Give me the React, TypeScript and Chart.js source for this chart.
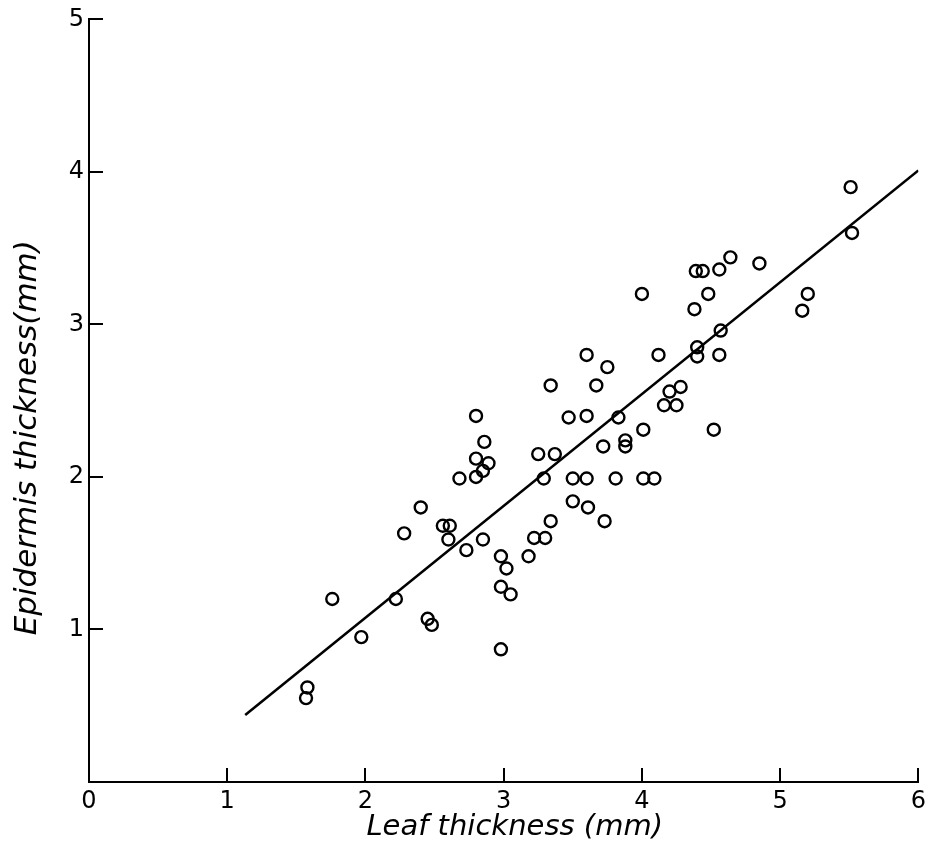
import { useEffect, useRef } from "react";
import { Chart, registerables } from "chart.js";

Chart.register(...registerables);

const leafThickness = [
  1.57, 1.58, 1.76, 1.97, 2.22, 2.28, 2.4, 2.45, 2.48, 2.56, 2.61, 2.6, 2.68, 2.73,
  2.8, 2.86, 2.8, 2.89, 2.85, 2.8, 2.85, 2.98, 3.02, 2.98, 3.05, 2.98, 3.18, 3.22,
  3.3, 3.34, 3.29, 3.25, 3.37, 3.34, 3.47, 3.6, 3.83, 3.5, 3.6, 3.81, 3.5, 3.61,
  3.73, 3.72, 3.88, 3.88, 4.01, 3.6, 3.75, 3.67, 4.12, 4.4, 4.4, 4.56, 4.57, 4.2,
  4.28, 4.16, 4.25, 4.52, 4.01, 4.09, 4.39, 4.44, 4.56, 4.64, 4.85, 4.0, 4.48,
  4.38, 5.2, 5.16, 5.51, 5.52,
];
const epidermisThickness = [
  0.55, 0.62, 1.2, 0.95, 1.2, 1.63, 1.8, 1.07, 1.03, 1.68, 1.68, 1.59, 1.99, 1.52,
  2.4, 2.23, 2.12, 2.09, 2.04, 2.0, 1.59, 1.48, 1.4, 1.28, 1.23, 0.87, 1.48, 1.6,
  1.6, 1.71, 1.99, 2.15, 2.15, 2.6, 2.39, 2.4, 2.39, 1.99, 1.99, 1.99, 1.84, 1.8,
  1.71, 2.2, 2.24, 2.2, 2.31, 2.8, 2.72, 2.6, 2.8, 2.85, 2.79, 2.8, 2.96, 2.56,
  2.59, 2.47, 2.47, 2.31, 1.99, 1.99, 3.35, 3.35, 3.36, 3.44, 3.4, 3.2, 3.2,
  3.1, 3.2, 3.09, 3.9, 3.6,
];
const fitLeaf = [1.13, 6.0];
const fitEpidermis = [0.44, 4.01];
const xTickValues = [0, 1, 2, 3, 4, 5, 6];
const yTickValues = [1, 2, 3, 4, 5];
const xTitle = "Leaf thickness (mm)";
const yTitle = "Epidermis thickness(mm)";

const innerTicks = {
  id: "innerTicks",
  afterDatasetsDraw(chart: any) {
    const { ctx, scales, chartArea } = chart;
    const x = scales.x;
    const y = scales.y;
    ctx.save();
    ctx.strokeStyle = "#000";
    ctx.lineWidth = 2;
    ctx.beginPath();
    x.ticks.forEach((t: any) => {
      if (t.value === 0) return;
      const px = Math.round(x.getPixelForValue(t.value));
      ctx.moveTo(px, chartArea.bottom);
      ctx.lineTo(px, chartArea.bottom - 14);
    });
    y.ticks.forEach((t: any) => {
      if (t.value === 0) return;
      const py = Math.round(y.getPixelForValue(t.value));
      ctx.moveTo(chartArea.left, py);
      ctx.lineTo(chartArea.left + 14, py);
    });
    ctx.stroke();

    // axis titles
    ctx.fillStyle = "#000";
    ctx.textAlign = "center";
    ctx.textBaseline = "middle";
    ctx.font = "italic 29px 'DejaVu Sans'";
    ctx.fillText(xTitle, (chartArea.left + chartArea.right) / 2 + 11, chartArea.bottom + 45);
    ctx.translate(chartArea.left - 61, (chartArea.top + chartArea.bottom) / 2 + 37);
    ctx.rotate(-Math.PI / 2);
    ctx.font = "italic 31px 'DejaVu Sans'";
    ctx.fillText(yTitle, 0, 0);
    ctx.restore();
  },
};

export default function App() {
  const ref = useRef<HTMLCanvasElement | null>(null);

  useEffect(() => {
    if (!ref.current) return;
    const points = leafThickness.map((v, i) => ({ x: v, y: epidermisThickness[i] }));
    const fit = fitLeaf.map((v, i) => ({ x: v, y: fitEpidermis[i] }));
    const tickFont = { family: "DejaVu Sans", size: 24 };
    const chart = new Chart(ref.current, {
      type: "scatter",
      data: {
        datasets: [
          {
            type: "line",
            data: fit,
            borderColor: "#000",
            borderWidth: 2.6,
            pointRadius: 0,
            fill: false,
            order: 2,
          } as any,
          {
            data: points,
            pointStyle: "circle",
            pointRadius: 6,
            pointBorderWidth: 2.4,
            borderColor: "#000",
            backgroundColor: "rgba(0,0,0,0)",
            order: 1,
          } as any,
        ],
      },
      options: {
        animation: false,
        responsive: false,
        layout: { padding: { top: 18, right: 11, left: 0, bottom: 0 } },
        plugins: { legend: { display: false }, tooltip: { enabled: false } },
        scales: {
          x: {
            type: "linear",
            min: 0,
            max: 6,
            afterFit: (s: any) => {
              s.height = 70;
            },
            afterBuildTicks: (s: any) => {
              s.ticks = xTickValues.map((v) => ({ value: v }));
            },
            grid: { display: true, drawOnChartArea: false, drawTicks: false, color: "rgba(0,0,0,0)" },
            border: { display: true, color: "#000", width: 2 },
            ticks: {
              color: "#000",
              padding: 5,
              font: tickFont,
              callback: (v: any) => String(v),
            },
          },
          y: {
            type: "linear",
            min: 0,
            max: 5,
            afterFit: (s: any) => {
              s.width = 89;
            },
            afterBuildTicks: (s: any) => {
              s.ticks = yTickValues.map((v) => ({ value: v }));
            },
            grid: { display: true, drawOnChartArea: false, drawTicks: false, color: "rgba(0,0,0,0)" },
            border: { display: true, color: "#000", width: 2 },
            ticks: {
              color: "#000",
              padding: 5,
              font: tickFont,
              callback: (v: any) => String(v),
            },
          },
        },
      },
      plugins: [innerTicks],
    });
    return () => chart.destroy();
  }, []);

  return (
    <div style={{ position: "absolute", left: 0, top: 0, width: 931, height: 852, background: "#fff" }}>
      <canvas ref={ref} width={931} height={852} style={{ display: "block" }} />
    </div>
  );
}
